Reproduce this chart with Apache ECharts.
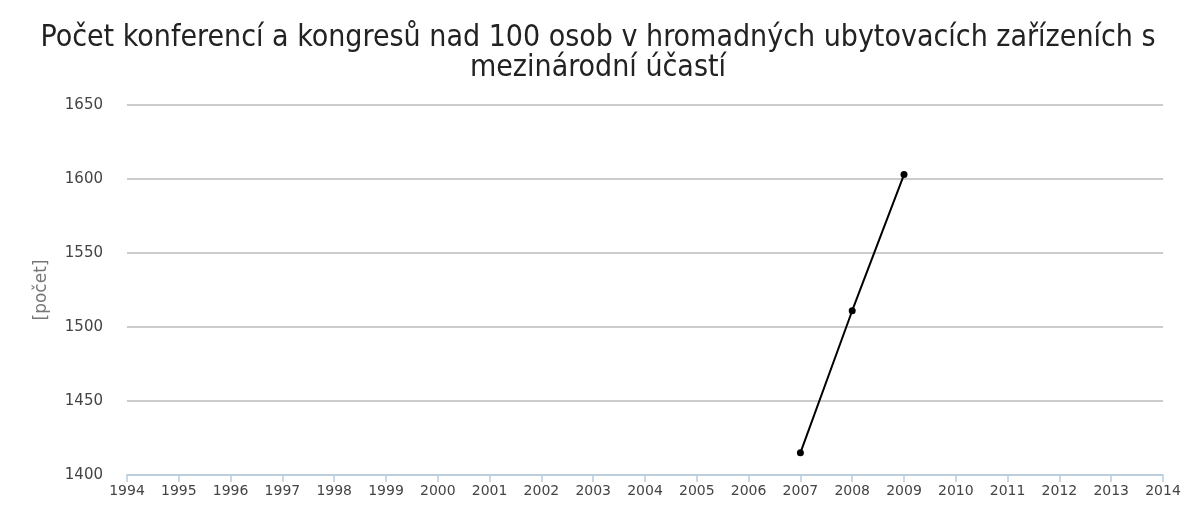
<!DOCTYPE html>
<html>
    <head>
        <meta charset="utf-8" />
        <title>Počet konferencí a kongresů</title>
        <script src="https://cdn.jsdelivr.net/npm/echarts@6.0.0/dist/echarts.min.js"></script>
        <script>
            const roky = [
                "1994", "1995", "1996", "1997", "1998", "1999", "2000",
                "2001", "2002", "2003", "2004", "2005", "2006", "2007",
                "2008", "2009", "2010", "2011", "2012", "2013", "2014",
            ];
            const pocty = [
                null, null, null, null, null, null, null,
                null, null, null, null, null, null, 1415,
                1511, 1603, null, null, null, null, null,
            ];

            function vykresli() {
                const graf = echarts.init(document.getElementById("graf"));
                graf.setOption({
                    animation: false,
                    title: {
                        text: "Počet konferencí a kongresů nad 100 osob v hromadných ubytovacích zařízeních s\nmezinárodní účastí",
                        left: "center",
                        top: 18,
                        textStyle: {
                            fontFamily: "DejaVu Sans Condensed",
                            fontWeight: "normal",
                            fontSize: 30,
                            lineHeight: 30,
                            color: "#222",
                        },
                    },
                    grid: {left: 127, right: 33, top: 105, bottom: 38},
                    xAxis: {
                        type: "category",
                        data: roky,
                        boundaryGap: false,
                        axisLine: {lineStyle: {color: "#b7cde3", width: 1.5}},
                        axisTick: {length: 7, lineStyle: {color: "#b7cde3", width: 1.5}},
                        axisLabel: {
                            color: "#444",
                            fontSize: 14,
                            margin: 9,
                            fontFamily: "DejaVu Sans",
                        },
                    },
                    yAxis: {
                        type: "value",
                        min: 1400,
                        max: 1650,
                        interval: 50,
                        name: "[počet]",
                        nameLocation: "middle",
                        nameGap: 77,
                        nameTextStyle: {
                            color: "#777",
                            fontSize: 17,
                            fontFamily: "DejaVu Sans",
                        },
                        axisLine: {show: false},
                        axisTick: {show: false},
                        axisLabel: {
                            color: "#444",
                            fontSize: 15,
                            margin: 24,
                            fontFamily: "DejaVu Sans",
                            formatter: (v) => String(v),
                        },
                        splitLine: {lineStyle: {color: "#bbbbbb", width: 1.5}},
                    },
                    series: [
                        {
                            type: "line",
                            data: pocty,
                            symbol: "circle",
                            symbolSize: 7,
                            lineStyle: {color: "#000", width: 2},
                            itemStyle: {color: "#000"},
                        },
                    ],
                });
            }

            window.onload = vykresli;
        </script>
    </head>
    <body style="margin: 0">
        <div id="graf" style="width: 1196px; height: 513px"></div>
    </body>
</html>
